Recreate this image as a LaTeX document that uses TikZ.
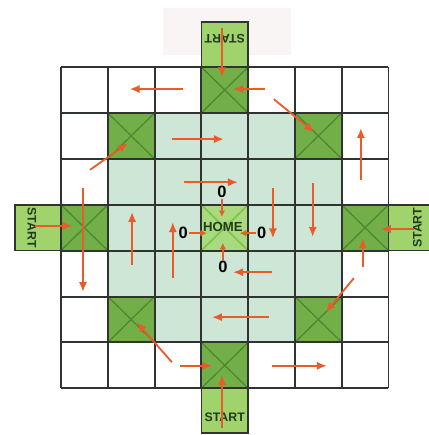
\documentclass[tikz,border=0pt]{standalone}
\usepackage{fontspec}
\setmainfont{Liberation Sans}
\usetikzlibrary{arrows.meta}

\definecolor{mintcell}{RGB}{205,230,214}
\definecolor{darkcell}{RGB}{114,175,72}
\definecolor{crossline}{RGB}{76,138,46}
\definecolor{tabgreen}{RGB}{160,211,108}
\definecolor{homegreen}{RGB}{170,218,128}
\definecolor{homecross}{RGB}{128,196,70}
\definecolor{arrowred}{RGB}{234,90,42}
\definecolor{gridink}{RGB}{48,52,48}
\definecolor{startink}{RGB}{34,58,30}
\definecolor{paleback}{RGB}{249,245,244}

\begin{document}
\begin{tikzpicture}[x=1cm,y=-0.981cm]
  \tikzstyle{move}=[draw=arrowred, line width=1.1pt, -{Latex[length=6pt,width=5pt]}]
  \tikzstyle{starttab}=[fill=tabgreen, draw=gridink, line width=1pt]
  \tikzstyle{startlabel}=[font=\fontsize{7.5}{8}\selectfont\bfseries, text=startink, inner sep=0pt]
  \tikzstyle{zero}=[font=\fontsize{10}{11}\selectfont\bfseries, inner sep=0.5pt]
  \useasboundingbox (-1.303,-1.46) rectangle (7.863,8.017);

  % faint patch behind the top start
  \fill[paleback] (2.18,-1.285) rectangle (4.915,-0.26);

  % Board cells
  \fill[mintcell] (1,1) rectangle (6,6);
  \foreach \cx/\cy in {3/0, 1/1, 5/1, 0/3, 6/3, 1/5, 5/5, 3/6}{
    \fill[darkcell] (\cx,\cy) rectangle ++(1,1);
    \draw[crossline, line width=0.8pt] (\cx,\cy) -- ++(1,1) (\cx+1,\cy) -- ++(-1,1);
  }
  \fill[homegreen] (3,3) rectangle (4,4);
  \draw[homecross, line width=1pt] (3,3) -- (4,4) (4,3) -- (3,4);

  % Start tabs
  \draw[starttab] (3,-0.98) rectangle (4,0);
  \draw[starttab] (-0.98,3) rectangle (0,4);
  \draw[starttab] (7,3) rectangle (7.98,4);
  \draw[starttab] (3,7) rectangle (4,7.98);

  % Grid
  \foreach \k in {0,...,7}{
    \draw[gridink, line width=1.2pt] (\k,0) -- (\k,7);
    \draw[gridink, line width=1.2pt] (0,\k) -- (7,\k);
  }

  % Labels
  \node[startlabel, rotate=180] (startN) at (3.5,-0.62) {START};
  \node[startlabel, rotate=-90] (startW) at (-0.62,3.5) {START};
  \node[startlabel, rotate=90] (startE) at (7.62,3.5) {START};
  \node[startlabel] (startS) at (3.5,7.62) {START};
  \node[startlabel, font=\fontsize{8}{9}\selectfont\bfseries] (home) at (3.46,3.49) {HOME};
  \node[zero] (zN) at (3.44,2.72) {0};
  \node[zero] (zW) at (2.61,3.62) {0};
  \node[zero] (zE) at (4.29,3.62) {0};
  \node[zero] (zS) at (3.46,4.36) {0};

  % Moves into home
  \draw[move, -{Latex[length=4pt,width=4pt]}] (zN) -- (3.44,3.27);
  \draw[move, -{Latex[length=4pt,width=4pt]}] (zW) -- (3.12,3.62);
  \draw[move, -{Latex[length=4pt,width=4pt]}] (zE) -- (3.82,3.62);
  \draw[move, -{Latex[length=4pt,width=4pt]}] (zS) -- (3.46,3.83);

  % Moves from the starts
  \draw[move] (3.44,-0.85) -- (3.44,0.22);
  \draw[move] (-0.56,3.46) -- (0.24,3.46);
  \draw[move] (7.54,3.53) -- (6.84,3.53);
  \draw[move] (3.44,7.86) -- (3.44,6.71);

  % Moves on the board
  \draw[move] (2.61,0.48) -- (1.47,0.48);
  \draw[move] (4.36,0.48) -- (3.68,0.48);
  \draw[move] (4.55,0.70) -- (5.41,1.42);
  \draw[move] (6.41,2.46) -- (6.41,1.33);
  \draw[move] (2.37,1.57) -- (3.48,1.57);
  \draw[move] (0.62,2.24) -- (1.43,1.66);
  \draw[move] (2.63,2.51) -- (3.78,2.51);
  \draw[move] (1.52,4.31) -- (1.52,3.16);
  \draw[move] (2.39,4.60) -- (2.39,3.38);
  \draw[move] (4.53,2.64) -- (4.53,3.73);
  \draw[move] (5.38,2.53) -- (5.38,3.70);
  \draw[move] (0.47,2.64) -- (0.47,4.90);
  \draw[move] (6.45,4.36) -- (6.45,3.73);
  \draw[move] (6.26,4.60) -- (5.66,5.34);
  \draw[move] (4.51,4.47) -- (3.68,4.47);
  \draw[move] (4.44,5.45) -- (3.23,5.45);
  \draw[move] (2.37,6.43) -- (1.62,5.56);
  \draw[move] (2.54,6.51) -- (3.23,6.51);
  \draw[move] (4.51,6.51) -- (5.68,6.51);
\end{tikzpicture}
\end{document}
